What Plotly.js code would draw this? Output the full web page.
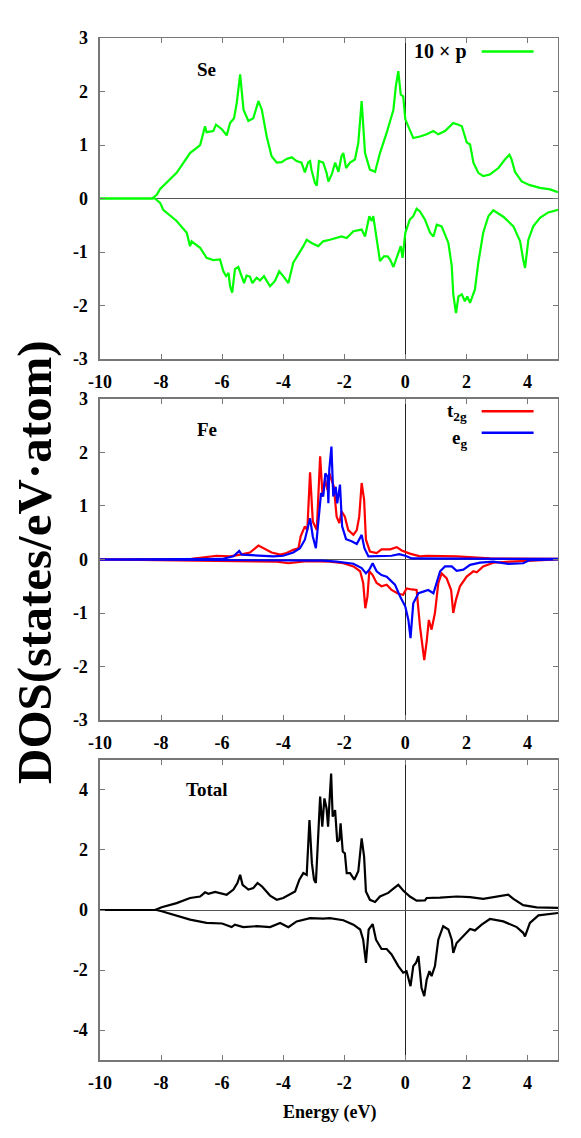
<!DOCTYPE html>
<html>
<head>
<meta charset="utf-8">
<script src="https://cdn.plot.ly/plotly-3.0.1.min.js"></script>
<style>
  body { margin: 0; background: #fff; }
  #myPlot { width: 581px; height: 1138px; }
</style>
</head>
<body>
<div id="myPlot"></div>
<script>
// Se p-states (x10), spin up / spin down
const seUpE = [-10, -8.3, -8.14, -8.03, -7.49, -7.05, -6.72, -6.56, -6.51, -6.29,
    -6.2, -6.0, -5.85, -5.74, -5.61, -5.52, -5.41, -5.3, -5.14, -4.98,
    -4.81, -4.7, -4.54, -4.38, -4.21, -4.05, -3.89, -3.72, -3.56, -3.4,
    -3.29, -3.18, -3.12, -3.07, -2.96, -2.9, -2.83, -2.69, -2.58, -2.52,
    -2.41, -2.3, -2.19, -2.09, -2.03, -1.94, -1.81, -1.65, -1.54, -1.43,
    -1.32, -1.16, -0.99, -0.83, -0.61, -0.39, -0.31, -0.23, -0.15, -0.07,
    0, 0.15, 0.26, 0.48, 0.7, 0.92, 1.08, 1.3, 1.57, 1.74,
    1.85, 2.01, 2.12, 2.23, 2.39, 2.55, 2.77, 3.05, 3.26, 3.41,
    3.48, 3.59, 3.81, 4.08, 4.41, 4.74, 5];
const seUp = [0, 0, 0.07, 0.18, 0.48, 0.85, 1.0, 1.35, 1.24, 1.26,
    1.38, 1.29, 1.18, 1.41, 1.5, 1.79, 2.32, 1.66, 1.45, 1.5,
    1.82, 1.66, 1.16, 0.79, 0.67, 0.68, 0.74, 0.77, 0.70, 0.67,
    0.49, 0.68, 0.70, 0.53, 0.29, 0.24, 0.70, 0.67, 0.48, 0.32,
    0.45, 0.67, 0.50, 0.79, 0.85, 0.57, 0.67, 0.73, 1.04, 1.82,
    0.85, 0.54, 0.50, 0.85, 1.23, 1.66, 2.10, 2.38, 1.94, 1.91,
    1.48, 1.29, 1.13, 1.16, 1.20, 1.26, 1.20, 1.26, 1.41, 1.38,
    1.35, 1.05, 1.01, 0.67, 0.48, 0.42, 0.45, 0.57, 0.73, 0.82,
    0.73, 0.50, 0.32, 0.25, 0.20, 0.17, 0.12];

const seDnE = [-10, -8.2, -8.03, -7.93, -7.49, -7.16, -7.05, -7.0, -6.72, -6.51,
    -6.29, -6.07, -5.96, -5.87, -5.79, -5.74, -5.67, -5.58, -5.47, -5.36,
    -5.28, -5.2, -5.09, -5.01, -4.87, -4.76, -4.63, -4.54, -4.43, -4.27,
    -4.13, -4.0, -3.83, -3.67, -3.5, -3.34, -3.23, -3.07, -2.85, -2.69,
    -2.47, -2.3, -2.09, -1.92, -1.7, -1.43, -1.32, -1.18, -1.1, -1.05,
    -0.94, -0.83, -0.7, -0.58, -0.5, -0.39, -0.23, -0.15, -0.09, 0,
    0.15, 0.26, 0.37, 0.48, 0.64, 0.81, 0.92, 1.03, 1.19, 1.41,
    1.52, 1.57, 1.66, 1.74, 1.85, 1.95, 2.03, 2.12, 2.28, 2.39,
    2.55, 2.72, 2.88, 3.21, 3.54, 3.76, 3.86, 3.92, 4.03, 4.19,
    4.41, 4.68, 5];
const seDn = [0, 0, -0.08, -0.21, -0.42, -0.64, -0.89, -0.80, -0.92, -1.11,
    -1.15, -1.14, -1.36, -1.45, -1.39, -1.64, -1.76, -1.32, -1.28, -1.45,
    -1.58, -1.44, -1.46, -1.58, -1.48, -1.53, -1.45, -1.54, -1.64, -1.54,
    -1.36, -1.45, -1.58, -1.20, -1.05, -0.89, -0.77, -0.83, -0.89, -0.80,
    -0.77, -0.74, -0.71, -0.74, -0.61, -0.58, -0.71, -0.33, -0.42, -0.33,
    -0.71, -1.17, -1.08, -1.08, -1.14, -1.28, -1.02, -0.89, -1.11, -0.64,
    -0.39, -0.33, -0.19, -0.24, -0.39, -0.64, -0.71, -0.49, -0.52, -0.83,
    -1.26, -1.79, -2.14, -1.83, -1.79, -1.92, -1.83, -1.95, -1.70, -1.20,
    -0.64, -0.33, -0.22, -0.34, -0.52, -0.80, -1.14, -1.30, -0.77, -0.52,
    -0.36, -0.26, -0.21];

// Fe d-states: t2g and eg
const t2gUpE = [-10, -7, -6.18, -5.74, -5.41, -5.09, -4.81, -4.65, -4.38, -4.1,
    -3.89, -3.67, -3.5, -3.43, -3.29, -3.21, -3.12, -3.03, -2.9, -2.79,
    -2.71, -2.63, -2.55, -2.49, -2.41, -2.34, -2.25, -2.16, -2.09, -1.98,
    -1.87, -1.7, -1.59, -1.51, -1.43, -1.35, -1.29, -1.16, -0.94, -0.78,
    -0.5, -0.28, -0.12, 0.15, 0.48, 0.7, 1.68, 2.77, 5];
const t2gUp = [0, 0.01, 0.07, 0.06, 0.09, 0.13, 0.26, 0.21, 0.13, 0.09,
    0.12, 0.18, 0.21, 0.43, 0.62, 0.55, 1.63, 0.71, 0.55, 1.93,
    1.18, 1.49, 1.30, 1.61, 1.49, 1.36, 0.80, 0.68, 0.90, 0.80,
    0.55, 0.46, 0.55, 0.80, 1.43, 1.12, 0.37, 0.15, 0.12, 0.19,
    0.19, 0.23, 0.17, 0.11, 0.06, 0.07, 0.06, 0.02, 0.01];

const egUpE = [-10, -6, -5.63, -5.44, -5.36, -4.87, -4.32, -4.0, -3.67, -3.45,
    -3.29, -3.12, -3.03, -2.93, -2.82, -2.76, -2.69, -2.62, -2.55, -2.52,
    -2.49, -2.42, -2.36, -2.28, -2.23, -2.14, -2.07, -1.94, -1.76, -1.59,
    -1.43, -1.34, -1.21, -0.83, -0.45, -0.2, 0, 0.21, 1.68, 3.32,
    5];
const egUp = [0, 0.01, 0.06, 0.16, 0.09, 0.07, 0.06, 0.07, 0.13, 0.21,
    0.37, 0.77, 0.43, 0.21, 0.87, 1.24, 1.18, 1.61, 1.55, 1.05,
    1.68, 2.11, 1.18, 1.36, 1.05, 1.40, 0.62, 0.38, 0.34, 0.29,
    0.46, 0.21, 0.06, 0.06, 0.07, 0.10, 0.07, 0.02, 0.02, 0.02,
    0.01];

const t2gDnE = [-10, -7, -5.41, -4.65, -4.21, -3.83, -3.23, -2.47, -2.03, -1.7,
    -1.48, -1.38, -1.31, -1.24, -1.18, -1.07, -0.94, -0.78, -0.61, -0.45,
    -0.23, -0.07, 0.04, 0.21, 0.37, 0.48, 0.56, 0.62, 0.7, 0.77,
    0.86, 0.97, 1.08, 1.19, 1.35, 1.5, 1.57, 1.66, 1.79, 2.01,
    2.23, 2.34, 2.55, 2.88, 3.43, 3.86, 4.19, 5];
const t2gDn = [0, -0.02, -0.03, -0.03, -0.04, -0.07, -0.03, -0.04, -0.07, -0.13,
    -0.22, -0.44, -0.91, -0.69, -0.22, -0.29, -0.44, -0.50, -0.47, -0.57,
    -0.64, -0.66, -0.54, -0.56, -0.57, -1.25, -1.63, -1.88, -1.53, -1.13,
    -1.31, -1.00, -0.44, -0.26, -0.35, -0.57, -1.00, -0.75, -0.50, -0.32,
    -0.22, -0.24, -0.13, -0.06, -0.04, -0.03, -0.01, 0];

const egDnE = [-10, -3.78, -2.69, -2.25, -1.7, -1.43, -1.29, -1.18, -1.07, -0.94,
    -0.78, -0.61, -0.5, -0.34, -0.17, 0, 0.1, 0.17, 0.26, 0.43,
    0.59, 0.75, 0.92, 1.03, 1.14, 1.3, 1.52, 1.68, 1.9, 2.12,
    2.45, 2.88, 3.37, 3.86, 4.08, 5];
const egDn = [0, -0.02, -0.02, -0.04, -0.08, -0.16, -0.26, -0.19, -0.07, -0.22,
    -0.29, -0.32, -0.38, -0.47, -0.69, -0.88, -1.13, -1.47, -0.82, -0.63,
    -0.60, -0.57, -0.63, -0.44, -0.22, -0.13, -0.13, -0.21, -0.19, -0.10,
    -0.06, -0.04, -0.08, -0.07, -0.01, 0];

// Total DOS
const totUpE = [-10, -8.2, -7.98, -7.49, -7.05, -6.72, -6.56, -6.45, -6.23, -6.0,
    -5.85, -5.63, -5.5, -5.41, -5.33, -5.14, -4.98, -4.84, -4.7, -4.43,
    -4.21, -4.0, -3.78, -3.61, -3.47, -3.34, -3.23, -3.14, -3.06, -2.99,
    -2.93, -2.85, -2.79, -2.72, -2.65, -2.58, -2.53, -2.49, -2.43, -2.38,
    -2.3, -2.23, -2.16, -2.12, -2.05, -1.98, -1.92, -1.81, -1.67, -1.54,
    -1.43, -1.35, -1.29, -1.16, -0.99, -0.83, -0.56, -0.37, -0.23, -0.07,
    0.15, 0.37, 0.64, 0.7, 1.14, 1.68, 2.12, 2.55, 2.99, 3.37,
    3.54, 3.86, 4.3, 5];
const totUp = [0, 0, 0.09, 0.23, 0.40, 0.45, 0.59, 0.54, 0.60, 0.54,
    0.51, 0.68, 0.90, 1.17, 0.84, 0.68, 0.73, 0.90, 0.79, 0.48,
    0.34, 0.40, 0.51, 0.62, 1.01, 1.23, 1.17, 3.00, 1.56, 1.01,
    0.90, 2.34, 3.78, 2.78, 3.72, 3.39, 2.78, 3.50, 4.55, 3.11,
    3.33, 2.28, 2.34, 2.89, 1.95, 1.89, 1.23, 1.23, 1.01, 1.29,
    2.39, 1.78, 0.62, 0.34, 0.27, 0.45, 0.57, 0.73, 0.84, 0.65,
    0.45, 0.31, 0.32, 0.40, 0.41, 0.45, 0.43, 0.37, 0.45, 0.51,
    0.37, 0.16, 0.09, 0.07];

const totDnE = [-10, -8.15, -7.98, -7.49, -7.05, -6.51, -6.0, -5.69, -5.58, -5.31,
    -4.87, -4.43, -4.1, -3.83, -3.56, -3.12, -2.69, -2.47, -2.03, -1.7,
    -1.48, -1.38, -1.29, -1.2, -1.07, -0.96, -0.78, -0.61, -0.45, -0.23,
    -0.07, 0.04, 0.17, 0.26, 0.35, 0.43, 0.48, 0.53, 0.62, 0.7,
    0.79, 0.86, 0.97, 1.08, 1.24, 1.41, 1.52, 1.57, 1.68, 1.9,
    2.12, 2.28, 2.5, 2.77, 3.21, 3.65, 3.86, 3.92, 4.08, 4.36,
    5];
const totDn = [0, 0, -0.04, -0.19, -0.32, -0.43, -0.45, -0.57, -0.49, -0.57,
    -0.54, -0.57, -0.43, -0.57, -0.38, -0.27, -0.29, -0.27, -0.34, -0.49,
    -0.65, -0.99, -1.76, -0.65, -0.47, -0.99, -1.30, -1.30, -1.48, -1.87,
    -2.09, -2.04, -2.54, -1.87, -1.76, -1.54, -2.09, -2.59, -2.87, -2.32,
    -2.04, -2.20, -1.87, -0.99, -0.54, -0.65, -0.99, -1.43, -1.10, -0.88,
    -0.63, -0.68, -0.49, -0.30, -0.38, -0.57, -0.76, -0.88, -0.43, -0.18,
    -0.10];

// tick labels (plain hyphen, as in the figure)
const xTicks = [-10, -8, -6, -4, -2, 0, 2, 4];
const xTickText = ['-10', '-8', '-6', '-4', '-2', '0', '2', '4'];
const y3Ticks = [-3, -2, -1, 0, 1, 2, 3];
const y3TickText = ['-3', '-2', '-1', '0', '1', '2', '3'];
const y5Ticks = [-4, -2, 0, 2, 4];
const y5TickText = ['-4', '-2', '0', '2', '4'];

const serif = '"Liberation Serif", "Times New Roman", serif';

function line(x, y, color, ax) {
    return {
        x: x, y: y,
        xaxis: 'x' + ax, yaxis: 'y' + ax,
        mode: 'lines',
        line: {color: color, width: 2.2},
        type: 'scatter',
        showlegend: false,
        hoverinfo: 'skip',
    };
}

const data = [
    line(seUpE, seUp, '#00ff00', ''),
    line(seDnE, seDn, '#00ff00', ''),
    line(t2gUpE, t2gUp, '#ff0000', '2'),
    line(t2gDnE, t2gDn, '#ff0000', '2'),
    line(egUpE, egUp, '#0000ff', '2'),
    line(egDnE, egDn, '#0000ff', '2'),
    line(totUpE, totUp, '#000000', '3'),
    line(totDnE, totDn, '#000000', '3'),
];

const tickfont = {family: serif, size: 18, color: '#000', weight: 'bold'};

function xax(anchor) {
    return {
        anchor: anchor,
        domain: [0.1721, 0.9604],
        range: [-10, 5],
        tickvals: xTicks,
        ticktext: xTickText,
        ticks: 'inside', ticklen: 5, tickcolor: '#777',
        showline: true, linecolor: '#777', linewidth: 1.5, mirror: 'ticks',
        showgrid: false,
        zeroline: true, zerolinecolor: '#222', zerolinewidth: 1,
        tickfont: tickfont,
        ticklabelstandoff: 6,
    };
}
function yax(anchor, domain, r, vals, text) {
    return {
        anchor: anchor,
        domain: domain,
        range: r,
        tickvals: vals,
        ticktext: text,
        ticks: 'inside', ticklen: 5, tickcolor: '#777',
        showline: true, linecolor: '#777', linewidth: 1.5, mirror: 'ticks',
        showgrid: false,
        zeroline: true, zerolinecolor: '#555', zerolinewidth: 1,
        tickfont: tickfont,
        ticklabelstandoff: 7,
    };
}

const labFont = {family: serif, size: 19, color: '#000', weight: 'bold'};
const legFont = {family: serif, size: 19, color: '#000', weight: 'bold'};

const layout = {
    width: 581,
    height: 1138,
    margin: {l: 0, r: 0, t: 0, b: 0},
    font: {family: serif, color: '#000'},
    paper_bgcolor: '#fff',
    plot_bgcolor: '#fff',
    xaxis: xax('y'),
    yaxis: yax('x', [0.6845, 0.9666], [-3, 3], y3Ticks, y3TickText),
    xaxis2: xax('y2'),
    yaxis2: yax('x2', [0.3673, 0.6494], [-3, 3], y3Ticks, y3TickText),
    xaxis3: xax('y3'),
    yaxis3: yax('x3', [0.0685, 0.3322], [-5, 5], y5Ticks, y5TickText),
    annotations: [
        {xref: 'x', yref: 'y', x: -6.5, y: 2.41, text: 'Se', showarrow: false, font: labFont},
        {xref: 'x2', yref: 'y2', x: -6.5, y: 2.43, text: 'Fe', showarrow: false, font: labFont},
        {xref: 'x3', yref: 'y3', x: -6.5, y: 4.0, text: 'Total', showarrow: false, font: labFont},
        {xref: 'x', yref: 'y', x: 2.08, y: 2.75, xanchor: 'right', text: '10 × p', showarrow: false,
            font: {family: serif, size: 20, color: '#000', weight: 'bold'}},
        {xref: 'x2', yref: 'y2', x: 2.08, y: 2.76, xanchor: 'right', yanchor: 'middle',
            text: 't<sub>2g</sub>', showarrow: false, font: legFont},
        {xref: 'x2', yref: 'y2', x: 2.08, y: 2.26, xanchor: 'right', yanchor: 'middle',
            text: 'e<sub>g</sub>', showarrow: false, font: legFont},
        {xref: 'paper', yref: 'paper', x: 34 / 581, y: 1 - 562 / 1138, xanchor: 'center', yanchor: 'middle',
            text: 'DOS(states/eV·atom)', textangle: -90,
            showarrow: false, font: {family: serif, size: 49, color: '#000', weight: 'bold'}},
        {xref: 'paper', yref: 'paper', x: 329 / 581, y: 1 - 1112 / 1138, xanchor: 'center', yanchor: 'middle',
            text: 'Energy (eV)',
            showarrow: false, font: {family: serif, size: 18, color: '#000', weight: 'bold'}},
    ],
    shapes: [
        {type: 'line', xref: 'x', yref: 'y', x0: 2.5, x1: 4.2, y0: 2.75, y1: 2.75, line: {color: '#00ff00', width: 2.5}},
        {type: 'line', xref: 'x2', yref: 'y2', x0: 2.5, x1: 4.2, y0: 2.77, y1: 2.77, line: {color: '#ff0000', width: 2.5}},
        {type: 'line', xref: 'x2', yref: 'y2', x0: 2.5, x1: 4.2, y0: 2.37, y1: 2.37, line: {color: '#0000ff', width: 2.5}},
    ],
};

Plotly.newPlot('myPlot', data, layout, {displayModeBar: false, staticPlot: true});
</script>
</body>
</html>
